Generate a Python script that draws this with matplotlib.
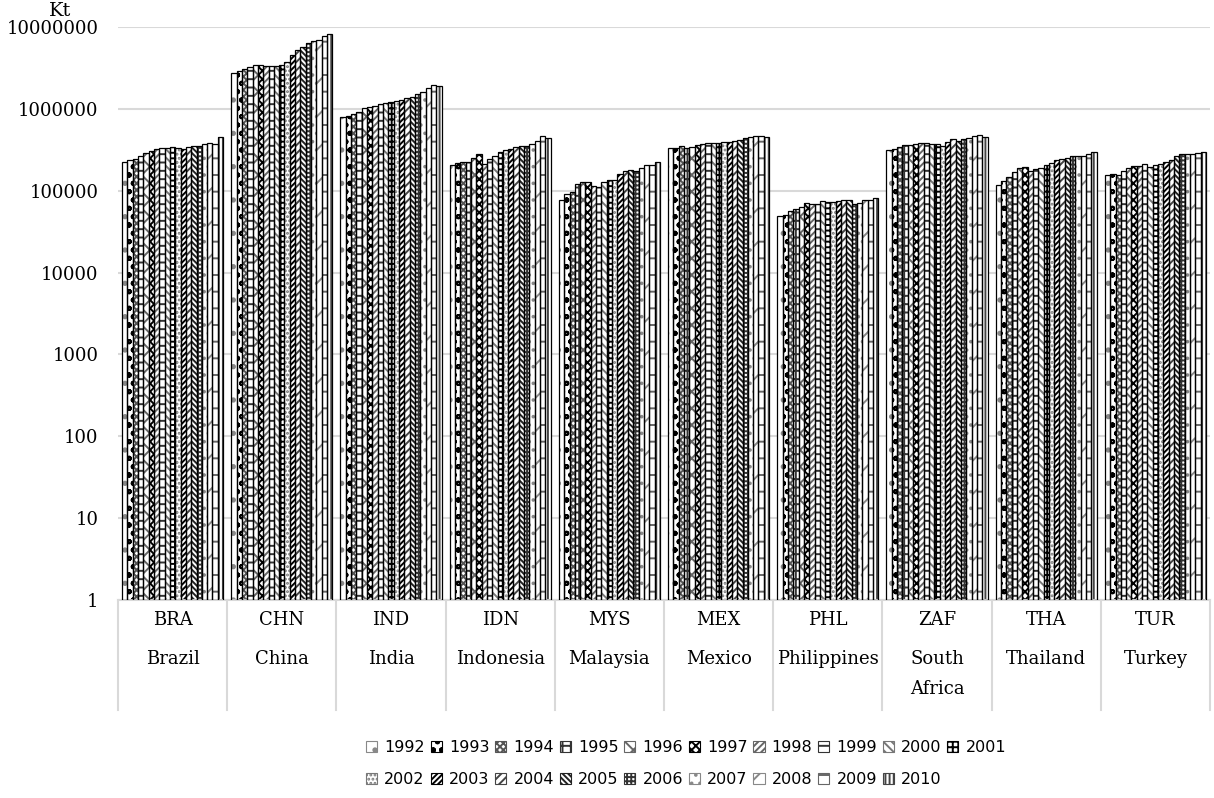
import matplotlib
matplotlib.use("Agg")
import matplotlib.pyplot as plt
import matplotlib.transforms as mtransforms
from matplotlib.patches import Patch
import numpy as np

# CO2 emissions, kt, 1992-2010
years = [str(y) for y in range(1992, 2011)]
codes = ["BRA", "CHN", "IND", "IDN", "MYS", "MEX", "PHL", "ZAF", "THA", "TUR"]
names = ["Brazil", "China", "India", "Indonesia", "Malaysia", "Mexico",
         "Philippines", "South\nAfrica", "Thailand", "Turkey"]

bra = [224000, 235000, 247000, 262000, 288000, 305000, 319000, 328000, 334000, 341000,
       334000, 325000, 341000, 350000, 350000, 367000, 385000, 367000, 447000]
chn = [2730000, 2880000, 3080000, 3220000, 3470000, 3470000, 3310000, 3310000, 3370000, 3470000,
       3710000, 4550000, 5280000, 5750000, 6320000, 6700000, 7000000, 7700000, 8200000]
ind = [792000, 815000, 869000, 927000, 1020000, 1050000, 1080000, 1150000, 1190000, 1210000,
       1230000, 1300000, 1350000, 1410000, 1510000, 1610000, 1790000, 1960000, 1920000]
idn = [204000, 219000, 224000, 224000, 252000, 277000, 211000, 241000, 265000, 296000,
       310000, 319000, 341000, 347000, 347000, 374000, 410000, 464000, 439000]
mys = [77600, 91900, 96400, 122000, 128000, 128000, 114000, 111000, 128000, 137000,
       137000, 161000, 172000, 180000, 174000, 189000, 209000, 204000, 227000]
mex = [332000, 332000, 347000, 332000, 341000, 357000, 374000, 385000, 388000, 388000,
       399000, 399000, 407000, 415000, 439000, 447000, 464000, 472000, 447000]
phl = [49100, 50900, 55900, 60300, 63200, 71400, 69400, 69400, 74100, 72800,
       72800, 74100, 76300, 76300, 68100, 70800, 76300, 76300, 82200]
zaf = [310000, 325000, 341000, 357000, 364000, 374000, 382000, 382000, 374000, 367000,
       351000, 393000, 423000, 400000, 423000, 443000, 472000, 482000, 452000]
tha = [116000, 131000, 147000, 169000, 189000, 195000, 172000, 182000, 189000, 204000,
       218000, 234000, 246000, 252000, 269000, 269000, 269000, 283000, 296000]
tur = [154000, 161000, 157000, 174000, 189000, 200000, 200000, 213000, 195000, 204000,
       213000, 224000, 234000, 265000, 283000, 283000, 283000, 288000, 296000]

values = np.array([bra, chn, ind, idn, mys, mex, phl, zaf, tha, tur])  # country x year

hatches = [".", "oo", "xxxxx", "++", "xx", "xxxx", "/////", "--", "\\\\\\\\", "+++",
           "....", "//////", "////", "\\\\\\\\\\\\", "++++", "..", "/", "-", "||||"]
hcolors = ["#888888", "black", "#555555", "#333333", "#666666", "black", "#666666",
           "#333333", "#777777", "black", "#777777", "black", "#444444", "#222222",
           "#333333", "#888888", "#888888", "#666666", "#444444"]

plt.rcParams["hatch.linewidth"] = 1.4

fig = plt.figure(figsize=(12.14, 7.98), dpi=100)
ax = fig.add_axes([118 / 1214, 1 - 600 / 798, 1092 / 1214, 573 / 798])
ax.set_yscale("log")

x = np.arange(len(codes))
n = len(years)
slot = 0.925 / n
for j in range(n):
    pos = x - 0.925 / 2 + slot * (j + 0.5)
    ax.bar(pos, values[:, j], width=slot, bottom=1, color="white",
           edgecolor=hcolors[j], linewidth=0, hatch=hatches[j], zorder=2)
    ax.bar(pos, values[:, j], width=slot, bottom=1, fill=False,
           edgecolor="black", linewidth=0.9, zorder=3)

ax.set_ylim(1, 1e7)
ax.set_xlim(-0.5, len(codes) - 0.5)
ticks = [10 ** k for k in range(8)]
ax.set_yticks(ticks)
ax.set_yticklabels([str(t) for t in ticks], fontfamily="DejaVu Serif", fontsize=13)
ax.minorticks_off()
ax.tick_params(axis="y", length=0, pad=14)
ax.set_xticks([])
ax.grid(axis="y", color="#d9d9d9", linewidth=1.5, zorder=0)
ax.set_axisbelow(True)
for s in ["left", "right", "top"]:
    ax.spines[s].set_visible(False)
ax.spines["bottom"].set_color("#d9d9d9")
ax.spines["bottom"].set_linewidth(1.5)

# two-level category axis
trans = mtransforms.blended_transform_factory(ax.transData, ax.transAxes)
for b in np.arange(len(codes) + 1) - 0.5:
    ax.plot([b, b], [0, -0.192], color="#d9d9d9", lw=1.5, transform=trans, clip_on=False)
for i in range(len(codes)):
    ax.text(x[i], -0.035, codes[i], transform=trans, ha="center", va="center",
            fontfamily="DejaVu Serif", fontsize=13)
    ax.text(x[i], -0.087, names[i], transform=trans, ha="center", va="top",
            fontfamily="DejaVu Serif", fontsize=13, linespacing=1.85)

fig.text(60 / 1214, 1 - 11 / 798, "Kt", ha="center", va="center",
         fontfamily="DejaVu Serif", fontsize=14)

handles = [Patch(facecolor="white", edgecolor=hcolors[j], hatch=hatches[j], linewidth=0.8)
           for j in range(n)]
order = []
for k in range(9):
    order += [k, k + 10]
order.append(9)
leg = fig.legend([handles[i] for i in order], [years[i] for i in order],
                 loc="upper left", bbox_to_anchor=(366 / 1214, 1 - 740 / 798),
                 ncol=10, frameon=False, handlelength=0.7, handleheight=0.7,
                 handletextpad=0.45, columnspacing=0.35, labelspacing=1.05,
                 borderpad=0, borderaxespad=0,
                 prop={"family": "DejaVu Sans", "size": 11.5})

fig.savefig("out.png", dpi=100)
